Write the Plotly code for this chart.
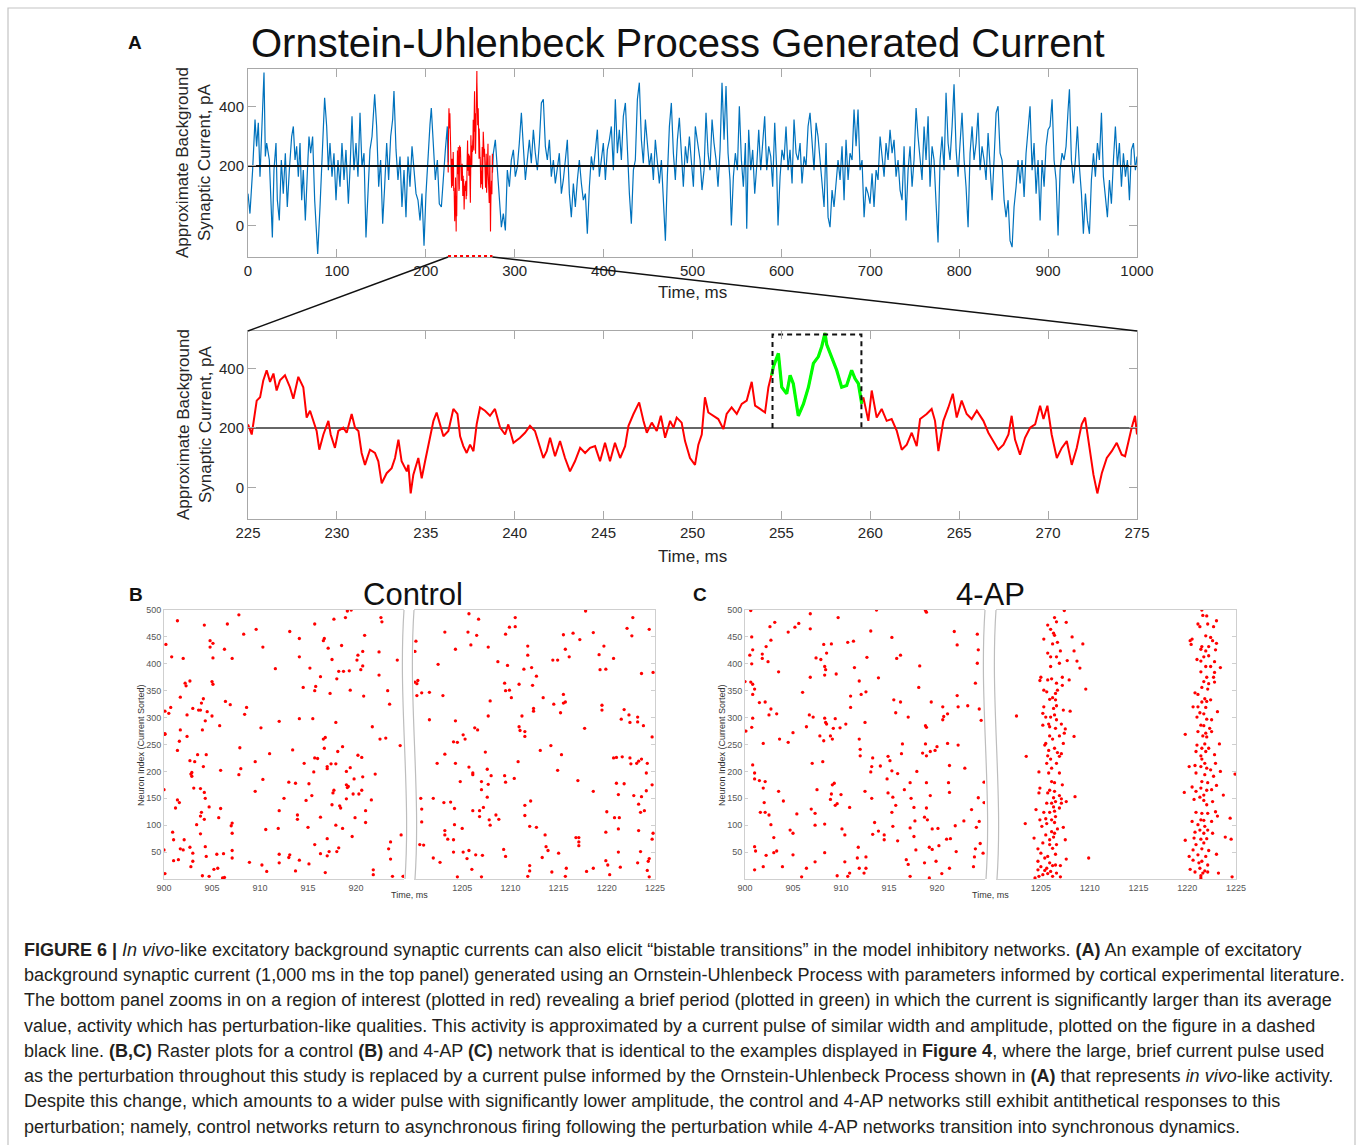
import plotly.graph_objects as go

# ---------------- DATA ----------------
MEAN_CURRENT = 200
Y_RANGE = [-106, 526]
PULSE_START, PULSE_END, PULSE_AMP = 254.5, 259.5, 514

# Top panel (blue) before the zoomed region
top_t_pre = [0, 2.2, 5.2, 7.9, 9.7, 11.6, 13.5, 15.4, 18.0, 19.5, 21.0, 24.0, 25.9, 27.4, 29.2, 31.5, 33.0, 35.2, 37.5, 39.7,
             42.0, 44.2, 46.5, 49.1, 51.0, 52.9, 54.7, 56.6, 58.5, 60.4, 62.2, 64.5, 66.7, 68.6, 70.5, 72.7, 75.0, 77.2, 78.4, 81.0,
             84.0, 86.2, 88.5, 90.4, 92.2, 94.5, 96.7, 99.0, 101.2, 103.5, 105.7, 108.0, 110.2, 112.9, 114.7, 117.0, 119.2, 121.5, 123.7, 126.0,
             128.2, 130.5, 132.7, 135.0, 137.2, 139.5, 141.0, 142.5, 144.7, 147.0, 149.2, 151.5, 153.7, 156.0, 158.2, 160.5, 162.7, 164.2, 166.5, 168.7,
             171.0, 173.2, 175.5, 177.7, 180.0, 182.2, 184.5, 186.7, 189.0, 191.2, 193.5, 195.7, 198.0, 200.2, 202.5, 204.7, 206.2, 208.5, 210.7, 213.0,
             215.2, 217.5, 219.7, 222.0, 224.2]
top_v_pre = [107, 40, 186, 356, 266, 345, 164, 299, 514, 232, 277, 220, 85, -40, 186, 277, 85, 17, 220, 107,
             243, 62, 186, 299, 333, 220, 266, 164, 277, 85, 186, 17, 175, 299, 243, 299, 85, -28, -96, 62,
             277, 429, 333, 186, 277, 164, 243, 85, 220, 130, 277, 153, 254, 73, 186, 367, 186, 277, 164, 379,
             198, 243, -40, 130, 254, 299, 379, 441, 333, 130, 220, 6, 130, 277, 153, 299, 356, 452, 254, 153,
             232, 62, 186, 28, 232, 130, 266, 186, 107, 85, 17, 107, -68, 107, 243, 339, 395, 254, 153, 220,
             73, 62, 175, 254, 333]

# Top panel (blue) after the zoomed region
top_t_post = [276.0, 278.2, 280.5, 282.7, 285.0, 287.2, 289.5, 291.7, 294.0, 296.2, 298.5, 300.7, 303.0, 305.2, 307.5, 309.7, 312.0, 314.2, 316.5, 318.7,
              321.0, 323.2, 325.5, 327.7, 330.0, 332.2, 334.5, 336.7, 339.0, 341.2, 343.5, 345.7, 348.0, 350.2, 352.5, 354.7, 357.0, 359.2, 361.5, 363.7,
              366.0, 368.2, 370.5, 372.7, 375.0, 377.2, 379.5, 381.7, 384.0, 386.2, 388.5, 390.7, 393.0, 395.2, 397.5, 399.7, 402.0, 404.2, 406.5, 408.7,
              411.0, 413.2, 415.5, 417.7, 420.0, 422.2, 424.5, 426.7, 429.0, 431.2, 433.5, 435.7, 438.0, 440.2, 442.5, 444.7, 447.0, 449.2, 451.5, 453.7,
              456.0, 458.2, 460.5, 462.7, 465.0, 467.2, 469.5, 471.7, 474.0, 476.2, 478.5, 480.7, 483.0, 485.2, 487.5, 489.7, 492.0, 494.2, 496.5, 498.7,
              501.0, 503.2, 505.5,
              508.5, 510.7, 513.0, 515.2, 517.5, 519.7, 522.0, 524.2, 526.5, 528.7, 531.0, 533.2, 535.5, 537.7, 540.0, 542.2, 543.7, 546.0, 548.2, 550.5,
              552.7, 555.0, 557.2, 559.5, 561.0, 563.2, 565.5, 567.7, 570.0, 572.2, 574.5, 576.7, 579.0, 581.2, 583.5, 585.7, 588.0, 590.2, 592.5, 594.7,
              596.2, 598.5, 600.7, 603.0, 605.2, 607.5, 609.7, 612.0, 614.2, 616.5, 618.7, 621.0, 623.2, 625.5, 627.7, 630.0, 632.2, 634.5, 636.7, 639.0,
              641.2, 643.5, 645.7, 648.0, 650.2, 652.5, 654.7, 657.0, 659.2, 661.5, 663.7, 666.0, 668.2, 670.5, 672.7, 675.0, 677.2, 679.5, 681.7, 684.0,
              686.2, 688.5, 690.7, 693.0, 695.2, 697.5, 699.7, 702.0, 704.2, 706.5, 708.7, 711.0, 713.2, 715.5, 717.7, 720.0, 722.2, 724.5, 726.7, 729.0,
              731.2, 733.5, 735.7, 738.0, 740.2, 742.5, 744.7, 747.0, 749.2, 751.5, 753.7, 756.0, 758.2, 760.5, 762.7, 765.0, 767.2, 769.5, 771.7, 774.0,
              776.2, 778.5, 780.7, 783.0, 785.2, 787.5, 789.7, 792.0, 794.2, 796.5, 798.7, 801.0, 803.2, 805.5, 807.7, 810.0, 812.2, 814.5, 816.7, 819.0,
              821.2, 823.5, 825.7, 828.0, 830.2, 832.5, 834.7, 837.0, 839.2, 841.5, 843.7, 846.0, 848.2, 850.5, 852.7, 855.0, 857.2, 859.5, 861.7, 864.0,
              866.2, 868.5, 870.7, 873.0, 875.2, 877.5, 879.7, 882.0, 884.2, 886.5, 888.7, 891.0, 893.2, 895.5, 897.7, 900.0, 902.2, 904.5, 906.7, 909.0,
              911.2, 913.5, 915.7, 918.0, 920.2, 922.5, 924.0, 926.2, 928.5, 930.7, 933.0, 935.2, 937.5, 939.7, 942.0, 944.2, 946.5, 948.7, 951.0, 953.2,
              955.5, 957.7, 960.0, 962.2, 964.5, 966.7, 969.0, 971.2, 973.5, 975.7, 978.0, 980.2, 982.5, 984.7, 987.0, 989.2, 991.5, 993.7, 996.0, 998.2,
              1000.0]
top_v_post = [243, 288, 186, 85, -6, 40, -17, 186, 130, 220, 254, 164, 198, 277, 379, 266, 153, 220, 288, 209,
              322, 243, 186, 277, 412, 424, 266, 220, 288, 164, 220, 141, 198, 243, 107, 153, 220, 288, 107, 28,
              141, 62, 153, 220, 141, 85, 107, -28, 130, 232, 186, 266, 322, 164, 232, 277, 153, 254, 288, 333,
              186, 424, 243, 322, 220, 367, 412, 232, 107, 6, 186, 220, 424, 480, 288, 209, 356, 277, 198, 243,
              153, 288, 220, 141, 220, 85, -51, 164, 333, 412, 243, 153, 288, 362, 220, 130, 266, 209, 299, 198,
              130, 333, 288,
              220, 119, 186, 379, 243, 186, 356, 277, 220, 130, 254, 480, 288, 469, 243, 153, 0, 164, 243, 186,
              401, 220, 130, 277, -11, 322, 186, 254, 107, 198, 322, 186, 277, 367, 186, 266, 232, 130, 345, 186,
              0, 164, 254, 220, 333, 186, 254, 141, 356, 243, 220, 277, 141, 232, 198, 333, 379, 277, 186, 345,
              299, 220, 141, 62, 277, 28, -6, 119, 62, 130, 220, 153, 266, 85, 288, 153, 243, 220, 390, 266,
              390, 186, 220, 28, 130, 107, 73, 175, 62, 186, 153, 299, 232, 164, 277, 220, 322, 243, 288, 164,
              220, 119, 85, 266, 17, 186, 266, 130, 220, 395, 299, 220, 153, 333, 220, 367, 130, 266, 220, 73,
              -57, 220, 299, 186, 446, 277, 220, 333, 475, 254, 164, 277, 379, 220, 130, -6, 243, 333, 220, 277,
              379, 186, 266, 220, 153, 311, 198, 85, 220, 379, 401, 243, 220, 85, 28, 85, -51, -73, 62, 130,
              220, 141, 220, 96, 243, 333, 401, 186, 277, 107, 220, 17, 220, 130, 266, 322, 333, 424, 220, 153,
              -34, 186, 243, 220, 266, 390, 458, 220, 141, 220, 333, 198, 107, -28, 107, 17, -28, 153, 243, 164,
              277, 220, 379, 164, 85, 28, 153, 73, 220, 333, 198, 277, 130, 243, 164, 220, 85, 254, 277, 186,
              232]

# Zoomed region of interest (225-275 ms)
zoom_t = [225.00, 225.21, 225.49, 225.68, 225.86, 226.05, 226.24, 226.43, 226.61, 226.80, 227.08, 227.36, 227.55, 227.83, 228.11, 228.30, 228.49, 228.68, 228.86, 229.01,
          229.24, 229.52, 229.65, 229.89, 230.08, 230.36, 230.55, 230.83, 231.02, 231.21, 231.39, 231.58, 231.86, 232.14, 232.33, 232.52, 232.80, 233.08, 233.27, 233.46,
          233.64, 233.93, 234.02, 234.15, 234.30, 234.58, 234.77, 234.96, 235.24, 235.43, 235.61, 235.80, 235.99, 236.27, 236.55, 236.78, 236.93, 237.11, 237.30, 237.49,
          237.68, 237.86, 238.05, 238.33, 238.61, 238.89, 239.18, 239.46, 239.64, 239.93, 240.30, 240.58, 240.86, 241.14, 241.33, 241.61, 241.80, 241.99, 242.27, 242.55,
          242.83, 243.11, 243.39, 243.68, 243.96, 244.24, 244.52, 244.80, 245.08, 245.36, 245.64, 245.93, 246.21, 246.40, 246.68, 247.00, 247.24, 247.43, 247.71, 247.99,
          248.22, 248.46, 248.74, 248.93, 249.11, 249.39, 249.58, 249.86, 250.14,
          250.33, 250.52, 250.70, 250.89, 251.17, 251.45, 251.74, 251.92, 252.20, 252.49, 252.77, 253.05, 253.33, 253.52, 253.80, 254.08, 254.27, 254.45,
          254.55, 254.83, 255.02, 255.30, 255.49, 255.67, 255.95, 256.24, 256.52, 256.80, 257.08, 257.27, 257.45, 257.55, 257.83, 258.11, 258.39, 258.67, 258.95, 259.14,
          259.33, 259.52,
          259.61, 259.89, 260.08, 260.36, 260.64, 260.92, 261.20, 261.49, 261.77, 262.05, 262.33, 262.61, 262.80, 263.17, 263.45, 263.64, 263.83, 264.11, 264.39, 264.64,
          264.86, 265.14, 265.42, 265.70, 265.99, 266.36, 266.64, 266.92, 267.20, 267.49, 267.77, 267.95, 268.14, 268.42, 268.70, 268.99, 269.27, 269.55, 269.74, 269.96,
          270.20, 270.49, 270.77, 271.05, 271.33, 271.61, 271.89, 272.08, 272.27, 272.55, 272.77, 273.02, 273.30, 273.58, 273.86, 274.14, 274.33, 274.52, 274.70, 274.89,
          275.00]
zoom_v = [212, 178, 292, 303, 360, 394, 355, 383, 326, 360, 377, 337, 298, 372, 337, 235, 258, 224, 190, 127,
          178, 224, 178, 133, 190, 201, 184, 247, 201, 190, 116, 76, 127, 116, 88, 14, 48, 65, 99, 161,
          88, 54, 76, -20, 43, 99, 31, 88, 167, 224, 252, 212, 172, 190, 264, 247, 172, 139, 116, 144,
          122, 212, 269, 258, 241, 264, 201, 178, 212, 150, 167, 184, 207, 190, 156, 99, 122, 167, 105, 156,
          99, 54, 88, 133, 116, 133, 139, 88, 150, 88, 150, 99, 139, 207, 247, 286, 224, 184, 218, 190,
          241, 167, 224, 201, 235, 218, 156, 99, 76,
          144, 178, 303, 252, 241, 230, 196, 247, 269, 247, 281, 292, 355, 275, 264, 252, 337, 377,
          406, 451, 337, 315, 377, 349, 241, 281, 337, 417, 440, 474, 519, 480, 440, 394, 337, 343, 394, 366,
          349, 281,
          303, 224, 326, 235, 264, 224, 230, 190, 127, 144, 184, 139, 230, 247, 264, 224, 122, 224, 269, 315,
          235, 292, 247, 230, 258, 224, 184, 156, 127, 144, 178, 241, 161, 110, 167, 201, 212, 275, 230, 275,
          178, 99, 133, 156, 76, 133, 212, 235, 156, 43, -20, 48, 99, 122, 150, 110, 105, 156, 201, 241,
          178]

# Raster spikes: (time ms, neuron index)
ctrl_pre = [(919.5, 500), (919.1, 498), (918.9, 486), (907.8, 491), (901.4, 480), (922.6, 486), (922.7, 478), (917.7, 483), (915.7, 474), (904.2, 472),
            (906.6, 474), (913.1, 460), (909.6, 464), (908.3, 455), (914.1, 447), (920.9, 453), (916.7, 447), (900.2, 436), (904.8, 443), (905.1, 438),
            (904.8, 431), (906.3, 427), (910.3, 431), (917.1, 429), (916.6, 443), (918.5, 434), (920.7, 423), (920.2, 416), (907.1, 410), (905.1, 411),
            (902.0, 410), (900.8, 413), (914.1, 413), (911.6, 391), (915.2, 392), (917.5, 408), (920.1, 407), (918.2, 386), (918.7, 386), (919.3, 387),
            (920.5, 389), (920.7, 396), (922.4, 422), (922.4, 379), (916.3, 376), (918.0, 372), (917.3, 345), (914.5, 356), (915.8, 358), (915.7, 350),
            (919.4, 351), (920.8, 340), (923.3, 350), (924.3, 407), (901.7, 338), (902.2, 364), (902.3, 359), (902.7, 368), (904.1, 335), (903.9, 327),
            (905.0, 367), (905.1, 362), (903.0, 317), (903.6, 314), (903.8, 314), (908.6, 319), (908.4, 306), (906.9, 324), (906.4, 330), (900.7, 319),
            (900.5, 308), (900.1, 312), (902.4, 305), (904.5, 311), (905.0, 303), (904.3, 294), (912.0, 293), (914.1, 298), (915.5, 298), (910.1, 281),
            (905.8, 285), (904.0, 277), (917.9, 291), (921.7, 283), (900.1, 270), (902.4, 265), (901.7, 277), (901.6, 256), (901.4, 239), (907.9, 244),
            (916.8, 263), (916.6, 260), (916.7, 243), (918.6, 246), (918.1, 237), (920.2, 230), (920.6, 226), (922.5, 260), (923.1, 262), (924.6, 248),
            (903.5, 231), (904.4, 231), (911.0, 233), (913.4, 240), (915.7, 225), (916.0, 224), (917.4, 214), (917.0, 209), (917.9, 214), (919.4, 207),
            (919.0, 200), (902.7, 220), (903.2, 218), (904.1, 209), (902.9, 198), (902.9, 191), (902.8, 195), (905.9, 202), (907.8, 194), (908.0, 205),
            (909.5, 218), (914.6, 215), (915.6, 199), (917.0, 205), (920.7, 190), (922.0, 195), (919.8, 186), (919.0, 175), (919.2, 172), (919.1, 170),
            (915.1, 177), (913.0, 180), (913.7, 178), (910.3, 185), (903.1, 169), (903.8, 168), (904.2, 161), (901.4, 147), (901.6, 142), (904.3, 150),
            (901.2, 132), (909.5, 163), (912.5, 150), (915.4, 155), (914.8, 146), (917.6, 160), (917.7, 165), (920.3, 158), (920.6, 165), (919.0, 149),
            (919.7, 158), (921.6, 147), (919.9, 114), (921.0, 127), (921.0, 105), (917.5, 138), (918.3, 136), (918.4, 132), (912.0, 127), (903.9, 124),
            (903.8, 117), (904.2, 111), (904.7, 134), (905.9, 131), (905.7, 114), (903.4, 101), (903.8, 84), (900.9, 87), (901.0, 73), (902.1, 73),
            (901.7, 56), (901.0, 34), (901.5, 36), (907.0, 99), (907.1, 104), (907.1, 85), (911.9, 94), (910.6, 92), (915.0, 96), (913.9, 119),
            (913.9, 111), (916.3, 115), (917.9, 100), (918.6, 94), (919.6, 79), (917.0, 75), (915.7, 64), (916.3, 47), (917.2, 51), (917.0, 43),
            (918.2, 58), (918.0, 51), (902.7, 59), (903.0, 48), (902.0, 54), (904.3, 60), (904.4, 42), (903.0, 33), (902.8, 23), (905.5, 46),
            (906.2, 47), (907.1, 53), (907.1, 39), (905.6, 20), (905.2, 18), (908.9, 31), (910.2, 26), (910.7, 14), (912.0, 46), (913.1, 45),
            (913.0, 40), (912.0, 30), (914.1, 35), (913.7, 15), (915.1, 28), (916.8, 12), (921.8, 17), (921.8, 8), (923.4, 56), (923.6, 69),
            (923.6, 37), (923.8, 5), (924.9, 5), (904.0, 6), (904.7, 5), (906.1, 2), (906.3, 3), (900.1, 10), (900.0, 54), (900.0, 166),
            (900.1, 269), (924.7, 82), (923.5, 325)]
ctrl_post = [(1205.7, 493), (1206.7, 483), (1210.5, 486), (1217.8, 498), (1222.7, 486), (1203.2, 459), (1205.6, 459), (1206.5, 453), (1209.5, 455), (1209.9, 468),
             (1210.5, 469), (1215.5, 454), (1216.5, 457), (1217.2, 445), (1218.6, 458), (1222.1, 466), (1222.6, 452), (1224.4, 464), (1200.2, 442), (1200.1, 423),
             (1204.3, 427), (1205.9, 435), (1207.7, 431), (1211.8, 433), (1211.8, 416), (1215.7, 427), (1216.1, 413), (1214.4, 407), (1214.9, 407), (1219.7, 433),
             (1219.2, 417), (1220.7, 410), (1208.7, 404), (1202.5, 399), (1209.7, 397), (1212.2, 393), (1211.4, 390), (1212.7, 377), (1219.3, 389), (1219.9, 390),
             (1223.6, 382), (1224.8, 384), (1200.1, 366), (1200.4, 369), (1200.3, 363), (1200.8, 346), (1201.6, 347), (1203.0, 341), (1200.3, 341), (1209.4, 364),
             (1209.5, 350), (1209.9, 351), (1210.9, 362), (1212.3, 360), (1210.1, 337), (1207.9, 331), (1213.4, 337), (1215.5, 343), (1215.5, 327), (1215.7, 329),
             (1214.5, 325), (1212.4, 317), (1212.4, 312), (1211.2, 303), (1215.2, 309), (1219.5, 323), (1219.5, 314), (1221.8, 315), (1222.3, 305), (1221.5, 297),
             (1223.2, 301), (1223.2, 292), (1222.4, 291), (1223.8, 285), (1201.6, 296), (1204.3, 294), (1207.7, 303), (1210.9, 283), (1211.0, 276), (1211.5, 274),
             (1211.5, 265), (1206.3, 281), (1206.6, 277), (1205.1, 268), (1205.3, 260), (1204.1, 255), (1204.5, 254), (1217.7, 280), (1224.7, 264), (1213.1, 239),
             (1214.2, 248), (1215.3, 231), (1207.4, 236), (1203.2, 232), (1202.4, 215), (1204.3, 215), (1210.8, 218), (1205.7, 208), (1206.1, 197), (1206.1, 194),
             (1207.6, 204), (1208.0, 192), (1207.0, 181), (1204.8, 181), (1207.7, 176), (1209.4, 192), (1209.5, 180), (1210.4, 187), (1214.9, 202), (1217.0, 183),
             (1207.0, 166), (1218.6, 163), (1221.0, 178), (1221.8, 177), (1220.7, 225), (1221.0, 226), (1221.6, 227), (1222.4, 225), (1223.6, 223), (1223.1, 215),
             (1223.3, 219), (1224.2, 215), (1222.5, 214), (1224.1, 197), (1224.7, 175), (1224.1, 164), (1222.8, 155), (1223.6, 153), (1221.2, 157), (1202.0, 150),
             (1200.7, 150), (1203.1, 142), (1203.8, 143), (1204.2, 131), (1200.8, 130), (1206.1, 127), (1206.8, 127), (1207.2, 133), (1207.6, 152), (1211.5, 137),
             (1212.1, 145), (1211.5, 118), (1206.8, 116), (1207.8, 110), (1208.5, 119), (1208.8, 111), (1207.9, 100), (1204.2, 101), (1205.0, 94), (1200.8, 106),
             (1203.2, 90), (1203.2, 82), (1203.5, 74), (1204.1, 73), (1212.0, 98), (1212.7, 96), (1213.6, 82), (1216.8, 77), (1217.1, 77), (1217.1, 69),
             (1217.1, 62), (1220.0, 125), (1220.8, 114), (1221.3, 114), (1221.2, 93), (1219.9, 87), (1223.3, 90), (1223.5, 124), (1223.9, 127), (1223.3, 139),
             (1224.8, 85), (1224.7, 74), (1200.6, 64), (1201.0, 63), (1204.1, 50), (1205.1, 50), (1205.7, 53), (1206.4, 45), (1207.1, 44), (1205.5, 38),
             (1202.0, 39), (1202.7, 31), (1206.0, 18), (1209.3, 55), (1209.5, 42), (1213.7, 60), (1213.9, 53), (1213.3, 40), (1215.0, 48), (1215.8, 20),
             (1214.3, 13), (1212.0, 25), (1212.0, 15), (1211.8, 5), (1215.7, 5), (1217.9, 14), (1218.6, 20), (1219.9, 34), (1220.1, 26), (1220.3, 8),
             (1221.4, 22), (1223.2, 30), (1224.3, 33), (1224.4, 38), (1224.2, 16), (1224.4, 4), (1221.2, 50), (1223.5, 51), (1204.5, 4), (1207.0, 4)]
ap_pre = [(900.6, 499), (906.8, 493), (909.7, 486), (913.7, 500), (918.8, 499), (918.9, 496), (900.7, 450), (900.8, 426), (900.5, 416), (900.7, 400),
          (901.8, 418), (901.8, 410), (902.4, 404), (902.2, 432), (902.7, 444), (902.6, 469), (903.1, 477), (903.5, 385), (904.5, 459), (905.2, 468),
          (905.6, 475), (906.0, 347), (906.8, 465), (906.8, 375), (907.4, 411), (907.9, 408), (908.2, 436), (908.5, 420), (908.3, 395), (908.3, 379),
          (908.4, 389), (909.0, 437), (909.5, 381), (910.7, 440), (911.3, 442), (911.4, 393), (911.0, 340), (911.9, 368), (912.1, 343), (912.6, 348),
          (912.5, 291), (913.1, 461), (912.7, 412), (913.9, 374), (915.3, 449), (915.8, 410), (916.2, 416), (916.2, 329), (915.5, 333), (915.7, 309),
          (917.0, 301), (918.2, 396), (918.1, 356), (918.8, 285), (918.9, 282), (919.4, 329), (920.6, 320), (921.1, 307), (920.6, 296), (920.7, 302),
          (921.8, 460), (922.1, 435), (922.2, 320), (922.1, 341), (923.2, 322), (924.0, 364), (924.2, 455), (924.3, 426), (924.2, 401), (924.4, 316),
          (924.6, 295), (924.9, 180), (900.6, 366), (900.8, 362), (901.0, 353), (900.8, 343), (901.5, 328), (900.8, 299), (900.7, 282), (900.1, 275),
          (901.9, 252), (903.3, 307), (902.7, 316), (902.5, 305), (902.1, 329), (903.6, 260), (904.0, 145), (904.5, 254), (905.0, 272), (906.4, 283),
          (906.7, 305), (907.1, 301), (907.8, 266), (908.2, 257), (908.3, 299), (908.4, 291), (908.5, 288), (908.9, 266), (909.1, 260), (909.2, 280),
          (909.4, 298), (909.9, 281), (910.5, 288), (911.0, 319), (911.9, 260), (912.0, 229), (912.0, 241), (913.3, 225), (913.2, 209), (914.1, 210),
          (914.9, 228), (915.1, 220), (915.3, 201), (915.9, 196), (916.4, 251), (916.3, 233), (916.6, 166), (917.2, 179), (917.9, 200), (918.5, 234),
          (918.8, 251), (918.9, 229), (919.3, 237), (919.8, 239), (920.0, 246), (921.1, 252), (922.2, 249), (922.9, 206), (921.3, 211), (921.3, 161),
          (921.2, 179), (900.0, 367), (900.8, 212), (901.0, 197), (901.0, 186), (901.5, 183), (901.9, 169), (902.1, 181), (902.0, 142), (901.6, 124),
          (902.1, 124), (902.5, 119), (902.7, 101), (903.0, 77), (903.0, 49), (903.3, 52), (902.2, 44), (901.0, 60), (901.1, 52), (901.0, 17),
          (901.9, 23), (903.5, 163), (905.4, 121), (904.7, 91), (905.0, 85), (905.0, 45), (906.4, 20), (905.9, 4), (903.9, 23), (906.9, 130),
          (907.0, 215), (907.5, 166), (907.3, 122), (907.3, 100), (907.3, 32), (908.3, 49), (908.3, 102), (908.1, 218), (909.0, 158), (908.9, 148),
          (909.1, 175), (909.3, 178), (909.4, 137), (909.6, 140), (910.0, 157), (910.1, 93), (910.4, 82), (909.6, 6), (910.4, 32), (910.7, 5),
          (910.9, 11), (910.9, 133), (911.7, 39), (911.9, 20), (911.8, 59), (912.4, 11), (912.6, 41), (912.6, 20), (912.5, 163), (913.1, 199),
          (913.2, 150), (913.5, 105), (913.3, 83), (913.9, 89), (914.5, 82), (914.5, 73), (914.9, 160), (914.8, 186), (915.3, 124), (915.4, 98),
          (915.4, 152), (915.7, 137), (915.9, 71), (916.8, 36), (917.0, 27), (917.2, 5), (917.2, 95), (917.3, 150), (917.6, 133), (917.6, 79),
          (917.8, 54), (917.7, 108), (918.7, 115), (918.9, 132), (918.9, 179), (919.0, 110), (919.3, 155), (919.2, 59), (919.5, 55), (919.5, 93),
          (918.7, 30), (919.2, 2), (919.9, 33), (920.1, 94), (920.2, 62), (920.5, 10), (921.0, 74), (921.3, 20), (921.4, 75), (921.9, 99),
          (922.0, 51), (922.8, 108), (923.6, 129), (923.9, 41), (923.8, 23), (924.0, 56), (924.1, 96), (924.4, 107), (924.5, 66), (924.8, 48),
          (924.9, 142), (924.3, 151)]
ap_post = [(1207.4, 499), (1206.4, 486), (1206.6, 478), (1205.7, 472), (1207.6, 477), (1206.0, 464), (1206.3, 457), (1206.4, 453), (1205.3, 446), (1208.2, 450),
           (1206.7, 440), (1206.2, 437), (1209.3, 437), (1205.7, 420), (1207.0, 424), (1208.4, 424), (1206.0, 413), (1206.6, 413), (1207.7, 406), (1208.7, 405),
           (1206.9, 401), (1206.0, 395), (1209.0, 392), (1205.0, 375), (1207.2, 375), (1204.9, 369), (1205.7, 370), (1206.1, 372), (1207.9, 370), (1206.6, 364),
           (1207.2, 360), (1205.3, 351), (1206.7, 351), (1209.6, 353), (1205.6, 348), (1206.5, 345), (1206.2, 337), (1205.9, 334), (1206.5, 333), (1206.6, 322),
           (1205.3, 320), (1206.3, 317), (1207.3, 314), (1208.0, 312), (1205.2, 308), (1206.4, 305), (1206.0, 301), (1205.5, 301), (1206.6, 296), (1205.8, 288),
           (1205.9, 283), (1207.1, 288), (1206.5, 280), (1207.5, 279), (1205.2, 286), (1207.4, 271), (1205.9, 266), (1206.2, 260), (1206.9, 266), (1208.4, 265),
           (1205.5, 252), (1207.3, 252), (1205.4, 249), (1206.4, 243), (1205.8, 239), (1206.7, 235), (1207.1, 233), (1205.7, 229), (1206.9, 228), (1206.0, 223),
           (1205.6, 215), (1206.6, 215), (1206.1, 206), (1205.8, 197), (1204.8, 199), (1206.9, 197), (1206.1, 181), (1206.4, 179), (1207.2, 175), (1204.9, 169),
           (1205.9, 165), (1206.4, 163), (1204.8, 160), (1205.7, 160), (1206.9, 155), (1206.3, 151), (1207.1, 149), (1206.5, 144), (1207.6, 144), (1208.5, 153),
           (1205.6, 141), (1206.1, 141), (1207.1, 141), (1206.3, 134), (1206.9, 132), (1204.5, 129), (1206.4, 126), (1205.3, 124), (1205.9, 124), (1204.9, 110),
           (1205.5, 112), (1206.1, 110), (1206.5, 116), (1205.6, 103), (1206.4, 105), (1205.1, 98), (1207.3, 96), (1206.7, 93), (1206.1, 88), (1206.4, 85),
           (1205.5, 82), (1207.5, 73), (1206.3, 78), (1205.9, 73), (1204.3, 76), (1205.2, 67), (1206.6, 64), (1205.9, 64), (1204.7, 56), (1206.2, 57),
           (1205.0, 48), (1206.5, 46), (1205.7, 42), (1205.4, 39), (1207.6, 37), (1204.7, 33), (1205.9, 30), (1206.5, 26), (1206.2, 25), (1205.0, 23),
           (1205.6, 20), (1207.0, 25), (1204.7, 17), (1205.4, 16), (1206.0, 14), (1206.6, 11), (1205.2, 8), (1205.7, 10), (1206.2, 5), (1204.4, 2),
           (1207.0, 4), (1204.8, 5),
           (1221.5, 500), (1221.6, 490), (1222.0, 489), (1221.1, 474), (1223.0, 480), (1221.3, 469), (1222.1, 474), (1222.7, 469), (1220.5, 446), (1220.3, 443),
           (1221.9, 452), (1222.4, 449), (1222.6, 443), (1223.0, 438), (1220.4, 436), (1221.5, 432), (1222.2, 432), (1221.4, 427), (1221.9, 424), (1222.9, 426),
           (1221.0, 408), (1221.7, 413), (1222.2, 415), (1221.4, 405), (1222.8, 404), (1221.9, 395), (1222.4, 395), (1221.4, 385), (1222.8, 384), (1222.0, 375),
           (1222.7, 375), (1221.7, 367), (1222.2, 363), (1222.8, 366), (1221.5, 356), (1222.1, 353), (1220.8, 346), (1221.1, 343), (1221.8, 335), (1222.4, 333),
           (1221.5, 329), (1222.0, 330), (1220.6, 320), (1221.1, 320), (1221.9, 319), (1223.1, 311), (1221.3, 309), (1221.7, 307), (1221.0, 301), (1222.0, 297),
           (1222.5, 296), (1221.4, 286), (1221.7, 285), (1222.3, 280), (1221.1, 274), (1221.9, 271), (1222.5, 274), (1221.6, 266), (1222.0, 264), (1221.0, 249),
           (1221.8, 251), (1223.3, 251), (1221.5, 243), (1222.2, 243), (1220.9, 237), (1221.9, 237), (1221.4, 229), (1222.8, 231), (1221.5, 223), (1221.8, 215),
           (1222.9, 215), (1220.8, 211), (1221.4, 209), (1222.0, 206), (1220.2, 209), (1222.4, 203), (1223.4, 200), (1220.9, 197), (1221.8, 194), (1222.7, 191),
           (1221.5, 181), (1222.1, 179), (1223.0, 174), (1220.5, 171), (1221.4, 169), (1220.9, 163), (1222.0, 165), (1222.5, 166), (1221.7, 156), (1221.3, 152),
           (1220.7, 148), (1221.7, 146), (1222.6, 144), (1222.0, 138), (1222.9, 125), (1220.9, 124), (1221.5, 122), (1222.1, 122), (1223.1, 117), (1221.4, 110),
           (1220.5, 107), (1221.7, 109), (1222.5, 107), (1221.1, 101), (1221.8, 98), (1221.3, 91), (1222.1, 91), (1220.8, 87), (1221.7, 85), (1222.6, 85),
           (1220.7, 76), (1221.4, 74), (1222.0, 75), (1221.7, 67), (1220.9, 64), (1220.6, 54), (1221.5, 56), (1222.2, 53), (1220.2, 42), (1221.1, 45),
           (1221.9, 42), (1223.0, 46), (1220.6, 35), (1221.5, 33), (1221.2, 30), (1222.1, 26), (1220.3, 18), (1221.3, 20), (1221.8, 15), (1220.8, 13),
           (1221.6, 11), (1222.1, 13), (1221.4, 6), (1223.2, 11), (1221.4, 2),
           (1202.5, 303), (1203.5, 228), (1203.4, 103), (1209.9, 39), (1219.8, 269), (1219.7, 161), (1219.8, 72), (1224.9, 195), (1224.4, 113), (1224.5, 74),
           (1223.9, 78), (1223.7, 156), (1223.4, 393), (1224.6, 4)]

main_xticks_top = [0, 100, 200, 300, 400, 500, 600, 700, 800, 900, 1000]
main_xticks_zoom = [225, 230, 235, 240, 245, 250, 255, 260, 265, 270, 275]
main_yticks = [0, 200, 400]
raster_yticks = [50, 100, 150, 200, 250, 300, 350, 400, 450, 500]
raster_xticks_pre = [900, 905, 910, 915, 920]
raster_xticks_post = [1205, 1210, 1215, 1220, 1225]
RASTER_PRE_RANGE = [900, 925]
RASTER_POST_RANGE_B = [1200, 1225]
RASTER_POST_RANGE_C = [1200.4, 1225]
NEURON_RANGE = [0, 500]

# ---------------- LAYOUT HELPERS ----------------
W, H = 1358, 1145
FONT = "Liberation Sans, Arial, Helvetica, sans-serif"


def PX(x):
    return x / W


def PY(y):
    return 1 - y / H


BLUE, RED, GREEN = "#0072BD", "#FF0000", "#00FF00"
AXC = "#a8a8a8"
RAXC = "#cfcfcf"

fig = go.Figure()

# --- top panel ---
blue_pre_x = top_t_pre + [zoom_t[0]]
blue_pre_y = top_v_pre + [zoom_v[0]]
blue_post_x = [zoom_t[-1]] + top_t_post
blue_post_y = [zoom_v[-1]] + top_v_post
for bx, by in ((blue_pre_x, blue_pre_y), (blue_post_x, blue_post_y)):
    fig.add_trace(go.Scatter(x=bx, y=by, mode="lines", line=dict(color=BLUE, width=1.2),
                             xaxis="x", yaxis="y", showlegend=False, hoverinfo="skip"))
fig.add_trace(go.Scatter(x=zoom_t, y=zoom_v, mode="lines", line=dict(color=RED, width=1.1),
                         xaxis="x", yaxis="y", showlegend=False, hoverinfo="skip"))
fig.add_trace(go.Scatter(x=[top_t_pre[0], top_t_post[-1]], y=[MEAN_CURRENT, MEAN_CURRENT], mode="lines",
                         line=dict(color="#111111", width=2), xaxis="x", yaxis="y", showlegend=False, hoverinfo="skip"))
fig.add_trace(go.Scatter(x=[zoom_t[0], zoom_t[-1]], y=[Y_RANGE[0], Y_RANGE[0]], mode="lines",
                         line=dict(color=RED, width=4, dash="3px,3px"), cliponaxis=False,
                         xaxis="x", yaxis="y", showlegend=False, hoverinfo="skip"))

# --- zoom panel ---
fig.add_trace(go.Scatter(x=[zoom_t[0], zoom_t[-1]], y=[MEAN_CURRENT, MEAN_CURRENT], mode="lines",
                         line=dict(color="#333333", width=1.5), xaxis="x2", yaxis="y2", showlegend=False, hoverinfo="skip"))
fig.add_trace(go.Scatter(x=zoom_t, y=zoom_v, mode="lines", line=dict(color=RED, width=2),
                         xaxis="x2", yaxis="y2", showlegend=False, hoverinfo="skip"))
g_t = [t for t in zoom_t if PULSE_START - 0.05 <= t <= PULSE_END + 0.05]
g_v = [v for t, v in zip(zoom_t, zoom_v) if PULSE_START - 0.05 <= t <= PULSE_END + 0.05]
fig.add_trace(go.Scatter(x=g_t, y=g_v, mode="lines", line=dict(color=GREEN, width=3.2),
                         xaxis="x2", yaxis="y2", showlegend=False, hoverinfo="skip"))
fig.add_trace(go.Scatter(x=[PULSE_START, PULSE_START, PULSE_END, PULSE_END],
                         y=[MEAN_CURRENT, PULSE_AMP, PULSE_AMP, MEAN_CURRENT], mode="lines",
                         line=dict(color="#111111", width=2, dash="5px,4px"),
                         xaxis="x2", yaxis="y2", showlegend=False, hoverinfo="skip"))

# --- rasters ---
for spikes, xa, ya in ((ctrl_pre, "x3", "y3"), (ctrl_post, "x4", "y4"), (ap_pre, "x5", "y5"), (ap_post, "x6", "y6")):
    fig.add_trace(go.Scatter(x=[s[0] for s in spikes], y=[s[1] for s in spikes], mode="markers",
                             marker=dict(color=RED, size=3.3, line=dict(width=0)),
                             xaxis=xa, yaxis=ya, showlegend=False, hoverinfo="skip"))

main_ax = dict(showline=True, linecolor=AXC, linewidth=1, mirror="ticks", ticks="inside", ticklen=8,
               tickcolor=AXC, tickwidth=1, showgrid=False, zeroline=False, automargin=False,
               tickfont=dict(family=FONT, size=15, color="#262626"))
rfont = dict(family=FONT, size=9, color="#555555")
r_x = dict(showline=True, linecolor=RAXC, linewidth=1, mirror=True, ticks="", showgrid=False, zeroline=False,
           automargin=False, tickfont=rfont)
r_yl = dict(showline=True, linecolor=RAXC, linewidth=1, mirror=False, ticks="inside", ticklen=3, tickcolor=RAXC,
            showgrid=False, zeroline=False, automargin=False, tickfont=rfont, tickvals=raster_yticks, range=NEURON_RANGE)
r_yr = dict(showline=True, linecolor=RAXC, linewidth=1, mirror=False, ticks="inside", ticklen=4, tickcolor=RAXC,
            showgrid=False, zeroline=False, automargin=False, showticklabels=False, side="right",
            tickvals=raster_yticks, range=NEURON_RANGE)

RY = [PY(879), PY(610)]
fig.update_layout(
    template="none",
    width=W, height=H, autosize=False, margin=dict(l=0, r=0, t=0, b=0, pad=0, autoexpand=False),
    paper_bgcolor="white", plot_bgcolor="white", showlegend=False,
    xaxis=dict(main_ax, domain=[PX(248), PX(1137)], range=[top_t_pre[0], top_t_post[-1]], tickvals=main_xticks_top, anchor="y"),
    yaxis=dict(main_ax, domain=[PY(257), PY(69)], range=Y_RANGE, tickvals=main_yticks, anchor="x"),
    xaxis2=dict(main_ax, domain=[PX(248), PX(1137)], range=[zoom_t[0], zoom_t[-1]], tickvals=main_xticks_zoom, anchor="y2"),
    yaxis2=dict(main_ax, domain=[PY(519), PY(331)], range=Y_RANGE, tickvals=main_yticks, anchor="x2"),
    xaxis3=dict(r_x, domain=[PX(164), PX(404)], range=RASTER_PRE_RANGE, tickvals=raster_xticks_pre, anchor="y3"),
    yaxis3=dict(r_yl, domain=RY, anchor="x3"),
    xaxis4=dict(r_x, domain=[PX(414), PX(655)], range=RASTER_POST_RANGE_B, tickvals=raster_xticks_post, anchor="y4"),
    yaxis4=dict(r_yr, domain=RY, anchor="x4"),
    xaxis5=dict(r_x, domain=[PX(745), PX(985)], range=RASTER_PRE_RANGE, tickvals=raster_xticks_pre, anchor="y5"),
    yaxis5=dict(r_yl, domain=RY, anchor="x5"),
    xaxis6=dict(r_x, domain=[PX(996), PX(1236)], range=RASTER_POST_RANGE_C, tickvals=raster_xticks_post, anchor="y6"),
    yaxis6=dict(r_yr, domain=RY, anchor="x6"),
)

# --- shapes: connectors, break marks, frame ---
shapes = []
d0, d1 = PX(248), PX(1137)
tx0 = d0 + (zoom_t[0] - top_t_pre[0]) / (top_t_post[-1] - top_t_pre[0]) * (d1 - d0)
tx1 = d0 + (zoom_t[-1] - top_t_pre[0]) / (top_t_post[-1] - top_t_pre[0]) * (d1 - d0)
shapes.append(dict(type="line", xref="paper", yref="paper", x0=tx0, y0=PY(257), x1=d0, y1=PY(331),
                   line=dict(color="#111111", width=1.5)))
shapes.append(dict(type="line", xref="paper", yref="paper", x0=tx1, y0=PY(257), x1=d1, y1=PY(331),
                   line=dict(color="#111111", width=1.5)))


def brk(x):
    pts = [(x, 610), (x - 6, 700), (x + 7, 790), (x + 1, 879)]
    p = [(PX(a), PY(b)) for a, b in pts]
    return "M %f %f C %f %f, %f %f, %f %f" % (p[0][0], p[0][1], p[1][0], p[1][1], p[2][0], p[2][1], p[3][0], p[3][1])


for bx in (404, 414, 985, 996):
    shapes.append(dict(type="path", xref="paper", yref="paper", path=brk(bx), line=dict(color="#bdbdbd", width=1.2)))
shapes.append(dict(type="rect", xref="paper", yref="paper", x0=PX(8), y0=PY(1160), x1=PX(1355), y1=PY(8),
                   line=dict(color="#c4c4c4", width=1.2)))
fig.update_layout(shapes=shapes)

# --- annotations ---
ann = []


def A(text, x, y, size, bold=False, angle=0, xanchor="center", color="#111111"):
    ann.append(dict(text=("<b>%s</b>" % text) if bold else text, x=PX(x), y=PY(y), xref="paper", yref="paper",
                    showarrow=False, textangle=angle, xanchor=xanchor, yanchor="middle",
                    font=dict(family=FONT, size=size, color=color)))


A("Ornstein-Uhlenbeck Process Generated Current", 678, 43, 40)
A("A", 135, 43, 19, bold=True)
A("Approximate Background<br>Synaptic Current, pA", 194, 163, 17, angle=-90, color="#262626")
A("Approximate Background<br>Synaptic Current, pA", 194, 425, 17, angle=-90, color="#262626")
A("Time, ms", 692, 292, 17, color="#262626")
A("Time, ms", 692, 556, 17, color="#262626")
A("B", 136, 594, 19, bold=True)
A("C", 700, 594, 19, bold=True)
A("Control", 413, 594, 31)
A("4-AP", 990, 594, 31)
A("Neuron Index (Current Sorted)", 141, 745, 9, angle=-90, color="#333333")
A("Neuron Index (Current Sorted)", 722, 745, 9, angle=-90, color="#333333")
A("Time, ms", 409, 895, 9, color="#333333")
A("Time, ms", 990, 895, 9, color="#333333")

caption = [
    "<b>FIGURE 6 |</b> <i>In vivo</i>-like excitatory background synaptic currents can also elicit \u201cbistable transitions\u201d in the model inhibitory networks. <b>(A)</b> An example of excitatory",
    "background synaptic current (1,000 ms in the top panel) generated using an Ornstein-Uhlenbeck Process with parameters informed by cortical experimental literature.",
    "The bottom panel zooms in on a region of interest (plotted in red) revealing a brief period (plotted in green) in which the current is significantly larger than its average",
    "value, activity which has perturbation-like qualities. This activity is approximated by a current pulse of similar width and amplitude, plotted on the figure in a dashed",
    "black line. <b>(B,C)</b> Raster plots for a control <b>(B)</b> and 4-AP <b>(C)</b> network that is identical to the examples displayed in <b>Figure 4</b>, where the large, brief current pulse used",
    "as the perturbation throughout this study is replaced by a current pulse informed by the Ornstein-Uhlenbeck Process shown in <b>(A)</b> that represents <i>in vivo</i>-like activity.",
    "Despite this change, which amounts to a wider pulse with significantly lower amplitude, the control and 4-AP networks still exhibit antithetical responses to this",
    "perturbation; namely, control networks return to asynchronous firing following the perturbation while 4-AP networks transition into synchronous dynamics.",
]
cap_y = [950, 975, 1000, 1026, 1051, 1076, 1101, 1127]
for line, yy in zip(caption, cap_y):
    A(line, 22, yy, 18, xanchor="left", color="#231f20")

fig.update_layout(annotations=ann)

POST = ("document.body.style.margin='0px';document.body.style.padding='0px';"
        "document.documentElement.style.overflow='hidden';document.body.style.overflow='hidden';")
fig.write_html("out.html", config={"displayModeBar": False, "responsive": False}, post_script=POST)
